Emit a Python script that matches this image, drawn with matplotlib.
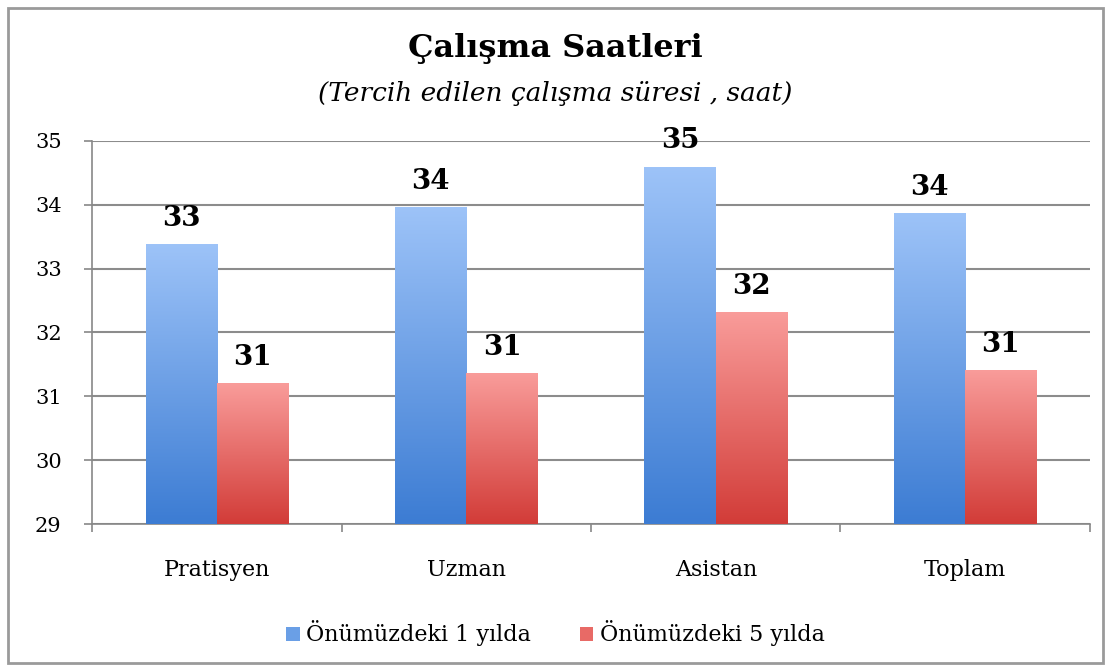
import numpy as np
import matplotlib.pyplot as plt
from matplotlib.colors import LinearSegmentedColormap
from matplotlib.patches import Rectangle, Patch

categories = ["Pratisyen", "Uzman", "Asistan", "Toplam"]
series_names = ["Önümüzdeki 1 yılda", "Önümüzdeki 5 yılda"]
values_1yil = [33.38, 33.96, 34.59, 33.86]
values_5yil = [31.2, 31.35, 32.31, 31.4]
labels_1yil = ["33", "34", "35", "34"]
labels_5yil = ["31", "31", "32", "31"]

plt.rcParams["font.family"] = ["DejaVu Serif"]

fig = plt.figure(figsize=(11.11, 6.71), dpi=100)
ax = fig.add_axes([0.083, 0.219, 0.898, 0.571])

# çerçeve
fig.patches.append(Rectangle((0.007, 0.012), 0.986, 0.976, transform=fig.transFigure,
                             fill=False, edgecolor="#9a9a9a", linewidth=2))

x = np.arange(len(categories))
w = 0.286

blue_cmap = LinearSegmentedColormap.from_list("b", ["#3c7cd3", "#9dc3f8"])
red_cmap = LinearSegmentedColormap.from_list("r", ["#d23c38", "#f99c9a"])

bars1 = ax.bar(x - w / 2, np.array(values_1yil) - 29, w, bottom=29, color="none", label=series_names[0])
bars2 = ax.bar(x + w / 2, np.array(values_5yil) - 29, w, bottom=29, color="none", label=series_names[1])

# degrade çubuklar
grad = np.linspace(0, 1, 256).reshape(-1, 1)
for bars, cmap in [(bars1, blue_cmap), (bars2, red_cmap)]:
    for b in bars:
        bx, by = b.get_x(), b.get_y()
        ax.imshow(grad, cmap=cmap, origin="lower", aspect="auto",
                  extent=[bx, bx + b.get_width(), by, by + b.get_height()], zorder=3)

for bars, labs in [(bars1, labels_1yil), (bars2, labels_5yil)]:
    for b, t in zip(bars, labs):
        ax.text(b.get_x() + b.get_width() / 2, b.get_y() + b.get_height() + 0.2, t,
                ha="center", va="bottom", fontsize=20, fontweight="bold", zorder=4)

ax.set_xlim(-0.5, len(categories) - 0.5)
ax.set_ylim(29, 35)
ax.set_yticks(range(29, 36))
ax.tick_params(axis="y", labelsize=15, length=6, color="#888888", width=1.2, pad=16)
ax.set_xticks(np.arange(-0.5, len(categories)), labels=[""] * (len(categories) + 1))
ax.set_xticks(x, labels=categories, minor=True)
ax.tick_params(axis="x", which="major", length=6, color="#888888", width=1.2)
ax.tick_params(axis="x", which="minor", length=0, labelsize=16, pad=25)

ax.grid(axis="y", color="#8c8c8c", linewidth=1.5, zorder=0)
ax.set_axisbelow(True)
for s in ["top", "right"]:
    ax.spines[s].set_visible(False)
for s in ["left", "bottom"]:
    ax.spines[s].set_color("#888888")
    ax.spines[s].set_linewidth(1.2)

handles = [Patch(facecolor="#6a9fe6"), Patch(facecolor="#e86a66")]
fig.legend(handles, series_names, loc="center", bbox_to_anchor=(0.5, 0.056), ncol=2,
           frameon=False, fontsize=16, handlelength=0.6, handleheight=0.6,
           handletextpad=0.3, columnspacing=2.2)

fig.text(0.5, 0.928, "Çalışma Saatleri", ha="center", va="center", fontsize=23, fontweight="bold")
fig.text(0.5, 0.861, "(Tercih edilen çalışma süresi , saat)", ha="center", va="center",
         fontsize=19, style="italic")

plt.savefig("out.png", dpi=100)
